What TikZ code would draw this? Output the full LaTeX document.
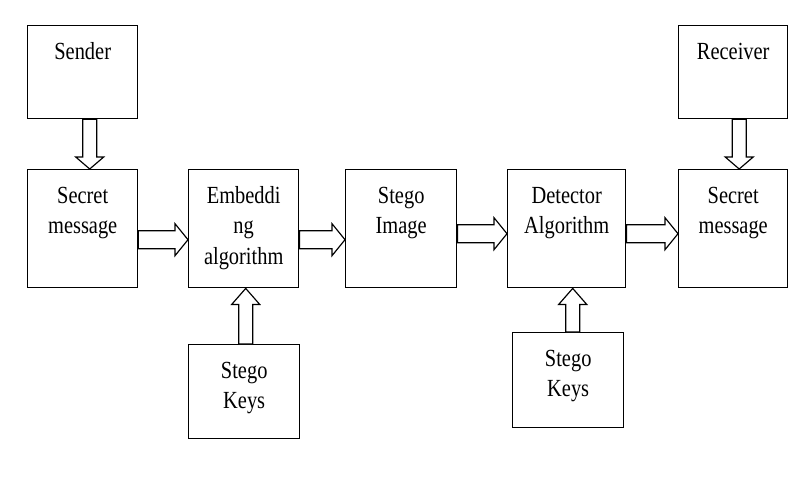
\documentclass[tikz,border=0pt]{standalone}
\usepackage{fontspec}
\setmainfont[FakeStretch=0.83]{Liberation Serif}
\usetikzlibrary{calc}

\tikzset{
    blk/.style={draw, line width=1.2pt, inner sep=0pt, anchor=north west,
        font=\fontsize{21}{26}\selectfont},
    blkarrow/.style={draw, line width=1pt, line join=miter, fill=white}
}
% text sits at the top of each block
\newcommand{\blktxt}[2]{\parbox[t][#1][t]{3cm}{\centering\vspace*{0.37cm}\strut #2}}
% hollow block arrows: from, to, offset of the tip
\newcommand{\rarr}[3]{%
    \coordinate (tip) at ($(#2.west)+(0,#3)$);
    \draw[blkarrow] ($(tip -| #1.east)+(0,-9)$) -- ($(tip)+(-13,-9)$) -- ($(tip)+(-13,-16)$) -- (tip)
        -- ($(tip)+(-13,16)$) -- ($(tip)+(-13,9)$) -- ($(tip -| #1.east)+(0,9)$) -- cycle;}
\newcommand{\darr}[3]{%
    \coordinate (tip) at ($(#2.north)+(#3,0)$);
    \draw[blkarrow] ($(tip |- #1.south)+(-7,0)$) -- ($(tip)+(-7,-12)$) -- ($(tip)+(-14,-12)$) -- (tip)
        -- ($(tip)+(14,-12)$) -- ($(tip)+(7,-12)$) -- ($(tip |- #1.south)+(7,0)$) -- cycle;}
\newcommand{\uarr}[3]{%
    \coordinate (tip) at ($(#2.south)+(#3,0)$);
    \draw[blkarrow] ($(tip |- #1.north)+(-7,0)$) -- ($(tip)+(-7,16)$) -- ($(tip)+(-14,16)$) -- (tip)
        -- ($(tip)+(14,16)$) -- ($(tip)+(7,16)$) -- ($(tip |- #1.north)+(7,0)$) -- cycle;}

\begin{document}
\begin{tikzpicture}[x=0.03cm, y=-0.03cm]
    \useasboundingbox (0,0) rectangle (812,498);
    \node[blk, minimum width=3.3cm] (sender) at (27,25) {\blktxt{2.79cm}{Sender}};
    \node[blk, minimum width=3.3cm] (secretA) at (27,169) {\blktxt{3.54cm}{Secret\\message}};
    \node[blk, minimum width=3.3cm] (embed) at (188,169) {\blktxt{3.54cm}{Embeddi\\ng\\algorithm}};
    \node[blk, minimum width=3.33cm] (stego) at (345,169) {\blktxt{3.54cm}{Stego\\Image}};
    \node[blk, minimum width=3.54cm] (detect) at (507,169) {\blktxt{3.54cm}{Detector\\Algorithm}};
    \node[blk, minimum width=3.27cm] (secretB) at (678,169) {\blktxt{3.54cm}{Secret\\message}};
    \node[blk, minimum width=3.27cm] (receiver) at (678,25) {\blktxt{2.79cm}{Receiver}};
    \node[blk, minimum width=3.33cm] (keysA) at (188,344) {\blktxt{2.82cm}{Stego\\Keys}};
    \node[blk, minimum width=3.33cm] (keysB) at (512,332) {\blktxt{2.85cm}{Stego\\Keys}};

    \darr{sender}{secretA}{7}
    \darr{receiver}{secretB}{6}
    \rarr{secretA}{embed}{11}
    \rarr{embed}{stego}{11}
    \rarr{stego}{detect}{5}
    \rarr{detect}{secretB}{5}
    \uarr{keysA}{embed}{2}
    \uarr{keysB}{detect}{6}
\end{tikzpicture}
\end{document}
